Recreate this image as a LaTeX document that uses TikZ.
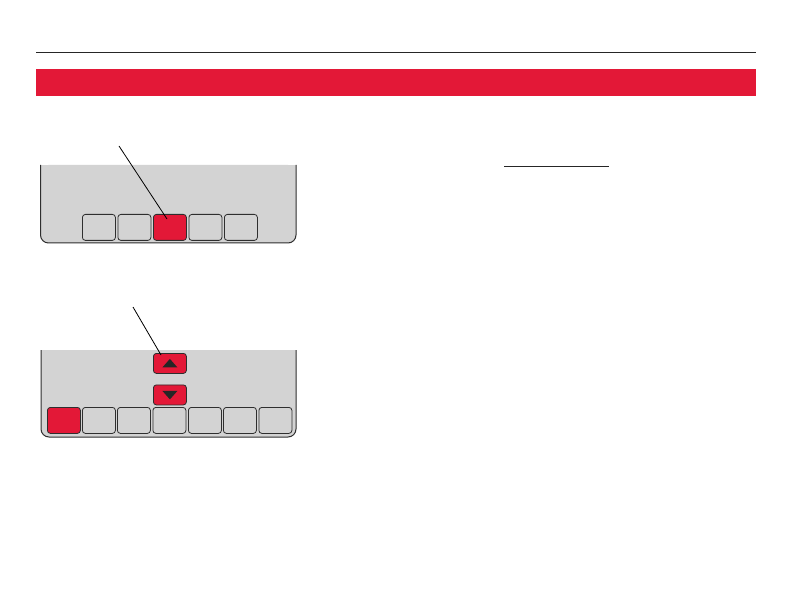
\documentclass[tikz,border=0pt]{standalone}
\usetikzlibrary{calc}
\definecolor{hwred}{HTML}{E31837}
\definecolor{panelgray}{HTML}{D3D3D3}
\definecolor{edgegray}{HTML}{2E2E2E}
\begin{document}
\begin{tikzpicture}[x=1pt,y=-1pt,
  panelside/.style={draw=edgegray,line width=1pt,rounded corners=8pt},
  keybtn/.style={draw=edgegray,line width=0.8pt,rounded corners=3pt,fill=panelgray,minimum width=33pt,minimum height=26pt,inner sep=0pt,anchor=north west},
  redbtn/.style={keybtn,fill=hwred},
  arrowbtn/.style={draw=edgegray,line width=0.8pt,rounded corners=3pt,fill=hwred,minimum width=33pt,minimum height=20pt,inner sep=0pt,anchor=north west},
  leader/.style={draw=black,line width=0.8pt}]
\useasboundingbox (0,0) rectangle (792,612);
% top rule and red bar
\draw[line width=1pt,black!85] (36,53) -- (756,53);
\fill[hwred] (36,69) rectangle (756,96);
% underline
\draw[line width=1pt,black!85] (504,167) -- (609,167);

% panel 1
\fill[panelgray,rounded corners=8pt] (40.5,165) -- (40.5,243) -- (296,243) -- (296,165) -- cycle;
\fill[panelgray] (40.5,165) rectangle (296,200);
\draw[panelside] (40.5,165) -- (40.5,243) -- (296,243) -- (296,165);
\node[keybtn] (p1b1) at (82,214) {};
\node[keybtn] (p1b2) at (117.5,214) {};
\node[redbtn] (p1b3) at (153,214) {};
\node[keybtn] (p1b4) at (188.5,214) {};
\node[keybtn] (p1b5) at (224,214) {};
\coordinate (c1) at (119,146);
\coordinate (t1) at (167,219);
\draw[leader] (c1) -- (t1);

% panel 2
\fill[panelgray,rounded corners=8pt] (41,350) -- (41,437) -- (296,437) -- (296,350) -- cycle;
\fill[panelgray] (41,350) rectangle (296,390);
\draw[panelside] (41,350) -- (41,437) -- (296,437) -- (296,350);
\node[redbtn] (p2b1) at (47,407) {};
\node[keybtn] (p2b2) at (82,407) {};
\node[keybtn] (p2b3) at (117,407) {};
\node[keybtn] (p2b4) at (152.5,407) {};
\node[keybtn] (p2b5) at (188,407) {};
\node[keybtn] (p2b6) at (223,407) {};
\node[keybtn] (p2b7) at (258.5,407) {};
\node[arrowbtn] (up) at (153,353) {};
\node[arrowbtn] (down) at (153,384.5) {};
\fill[black!85] ($(up.center)+(-7.5,4)$) -- ($(up.center)+(7.5,4)$) -- ($(up.center)+(0,-4.5)$) -- cycle;
\fill[black!85] ($(down.center)+(-7.5,-4)$) -- ($(down.center)+(7.5,-4)$) -- ($(down.center)+(0,4.5)$) -- cycle;
\coordinate (c2) at (133,307);
\coordinate (t2) at (161,355);
\draw[leader] (c2) -- (t2);
\end{tikzpicture}
\end{document}
